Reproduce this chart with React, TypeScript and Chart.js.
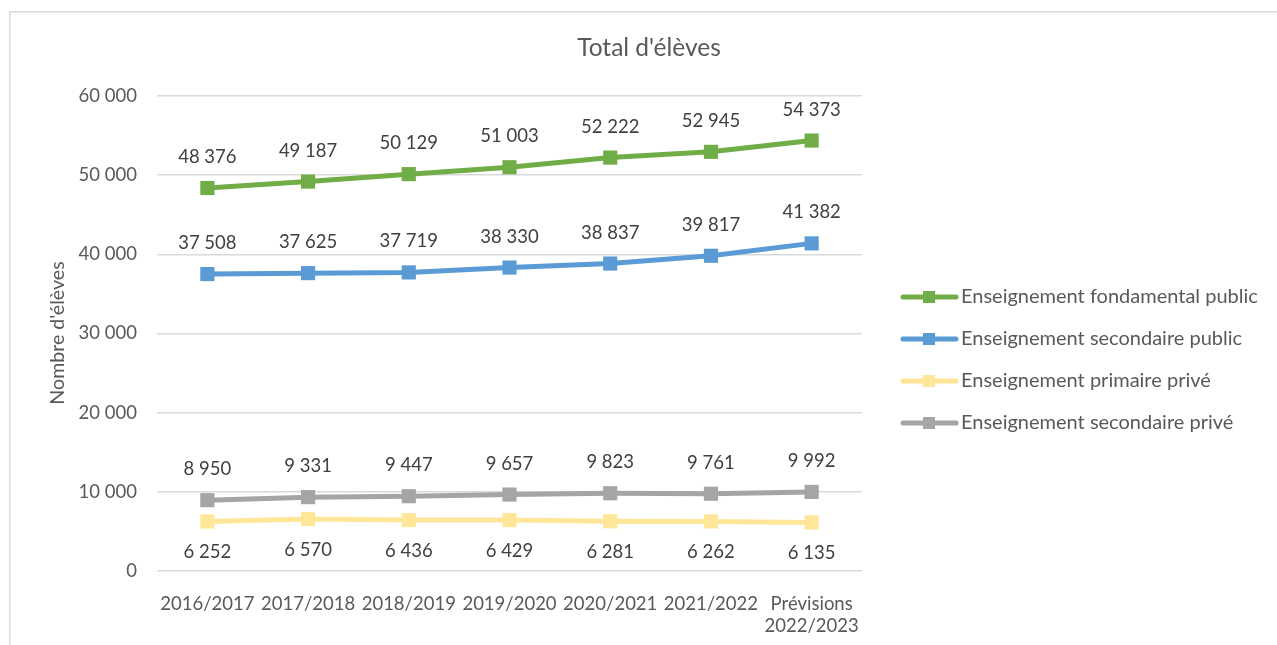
import React, { useEffect, useRef } from "react";
import { Chart, registerables } from "chart.js";

Chart.register(...registerables);

const categories: (string | string[])[] = [
  "2016/2017",
  "2017/2018",
  "2018/2019",
  "2019/2020",
  "2020/2021",
  "2021/2022",
  ["Prévisions", "2022/2023"],
];

const fondamentalPublic = [48376, 49187, 50129, 51003, 52222, 52945, 54373];
const secondairePublic = [37508, 37625, 37719, 38330, 38837, 39817, 41382];
const primairePrive = [6252, 6570, 6436, 6429, 6281, 6262, 6135];
const secondairePrive = [8950, 9331, 9447, 9657, 9823, 9761, 9992];

const seriesNames = [
  "Enseignement fondamental public",
  "Enseignement secondaire public",
  "Enseignement primaire privé",
  "Enseignement secondaire privé",
];
const seriesColors = ["#70AD47", "#5B9BD5", "#FFE699", "#A5A5A5"];
const labelBelow = [false, false, true, false];

const titleText = "Total d'élèves";
const yTitleText = "Nombre d'élèves";

const FONT = "Lato, 'Noto Sans', sans-serif";

const fmt = (v: number) =>
  String(Math.round(v)).replace(/\B(?=(\d{3})+(?!\d))/g, " ");

export default function App() {
  const ref = useRef<HTMLCanvasElement | null>(null);

  useEffect(() => {
    if (!ref.current) return;

    const decor = {
      id: "decor",
      beforeDraw(chart: any) {
        const ctx = chart.ctx;
        ctx.save();
        ctx.fillStyle = "#ffffff";
        ctx.fillRect(0, 0, chart.width, chart.height);
        ctx.strokeStyle = "#d9d9d9";
        ctx.lineWidth = 1.5;
        ctx.beginPath();
        ctx.moveTo(9.75, 660);
        ctx.lineTo(9.75, 11.75);
        ctx.lineTo(1290, 11.75);
        ctx.stroke();
        ctx.restore();
      },
      afterDraw(chart: any) {
        const ctx = chart.ctx;
        ctx.save();
        // title
        ctx.fillStyle = "#595959";
        ctx.font = `24.5px ${FONT}`;
        ctx.textAlign = "center";
        ctx.textBaseline = "middle";
        ctx.fillText(titleText, 649, 48);
        // y title
        ctx.save();
        ctx.translate(58, 333);
        ctx.rotate(-Math.PI / 2);
        ctx.font = `19.6px ${FONT}`;
        ctx.fillText(yTitleText, 0, 0);
        ctx.restore();
        // data labels
        ctx.fillStyle = "#404040";
        ctx.font = `18.5px ${FONT}`;
        chart.data.datasets.forEach((ds: any, i: number) => {
          const meta = chart.getDatasetMeta(i);
          meta.data.forEach((pt: any, j: number) => {
            const dy = labelBelow[i] ? 31 : -31;
            ctx.fillText(fmt(ds.data[j]), pt.x, pt.y + dy);
          });
        });
        // legend
        seriesNames.forEach((name, i) => {
          const y = 297 + i * 42;
          ctx.strokeStyle = seriesColors[i];
          ctx.lineWidth = 5;
          ctx.lineCap = "round";
          ctx.beginPath();
          ctx.moveTo(903, y);
          ctx.lineTo(956, y);
          ctx.stroke();
          ctx.fillStyle = seriesColors[i];
          ctx.fillRect(923, y - 6, 12, 12);
          ctx.fillStyle = "#595959";
          ctx.textAlign = "left";
          ctx.font = `20px ${FONT}`;
          ctx.fillText(name, 961, y);
        });
        ctx.restore();
      },
    };

    const datasets = [fondamentalPublic, secondairePublic, primairePrive, secondairePrive].map(
      (data, i) => ({
        label: seriesNames[i],
        data,
        borderColor: seriesColors[i],
        backgroundColor: seriesColors[i],
        borderWidth: 5,
        pointStyle: "rect" as const,
        pointRadius: 10,
        pointHoverRadius: 10,
        pointBorderWidth: 0,
        pointBackgroundColor: seriesColors[i],
        tension: 0,
      })
    );

    const chart = new Chart(ref.current, {
      type: "line",
      data: { labels: categories as any, datasets },
      options: {
        animation: false,
        responsive: false,
        events: [],
        layout: { padding: { top: 96, right: 415, bottom: 0, left: 0 } },
        plugins: {
          legend: { display: false },
          title: { display: false },
          tooltip: { enabled: false },
        },
        scales: {
          x: {
            offset: true,
            grid: { display: false },
            border: { display: false },
            ticks: {
              autoSkip: false,
              maxRotation: 0,
              minRotation: 0,
              color: "#595959",
              font: { family: FONT, size: 18.5 },
              padding: 14,
            },
            afterFit: (s: any) => {
              s.height = 74;
            },
          },
          y: {
            min: 0,
            max: 60000,
            grid: { color: "#d9d9d9", lineWidth: 1.5, drawTicks: false },
            border: { display: false },
            ticks: {
              stepSize: 10000,
              color: "#595959",
              font: { family: FONT, size: 18.5 },
              padding: 20,
              callback: (v: any) => fmt(Number(v)),
            },
            afterFit: (s: any) => {
              s.width = 157;
            },
          },
        },
      },
      plugins: [decor],
    });

    return () => chart.destroy();
  }, []);

  return (
    <div style={{ position: "fixed", left: 0, top: 0, width: 1277, height: 645, background: "#fff" }}>
      <canvas ref={ref} width={1277} height={645} style={{ display: "block" }} />
    </div>
  );
}
